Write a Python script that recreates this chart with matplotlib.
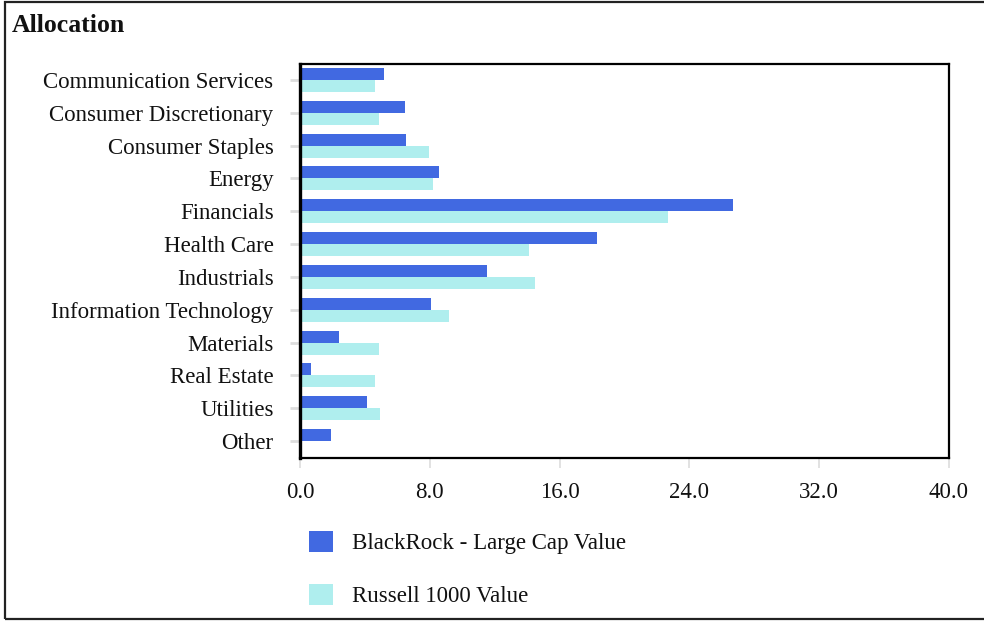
import matplotlib.pyplot as plt
import matplotlib.patches as patches
import numpy as np

plt.rcParams["font.family"] = ["Liberation Serif", "DejaVu Serif"]

categories = [
    "Communication Services",
    "Consumer Discretionary",
    "Consumer Staples",
    "Energy",
    "Financials",
    "Health Care",
    "Industrials",
    "Information Technology",
    "Materials",
    "Real Estate",
    "Utilities",
    "Other",
]
fund_values = [5.2, 6.45, 6.55, 8.55, 26.7, 18.3, 11.5, 8.05, 2.4, 0.65, 4.1, 1.9]
bench_values = [4.6, 4.85, 7.95, 8.2, 22.7, 14.1, 14.5, 9.2, 4.85, 4.6, 4.95, 0.1]
x_ticks = [0, 8, 16, 24, 32, 40]

fund_name = "BlackRock - Large Cap Value"
bench_name = "Russell 1000 Value"
fund_color = "#4169E1"
bench_color = "#AFEEEE"

fig = plt.figure(figsize=(9.84, 6.21), dpi=100, facecolor="white")

# outer frame of the panel
frame = patches.Rectangle(
    (5 / 984, 2 / 621), 1.2, 617 / 621,
    transform=fig.transFigure, fill=False, edgecolor="#222222",
    linewidth=1.6, clip_on=False,
)
fig.add_artist(frame)

fig.text(12 / 984, 1 - 25 / 621, "Allocation", fontsize=18.5, fontweight="bold",
         ha="left", va="center", color="#111111")

ax = fig.add_axes([300 / 984, 1 - 457.5 / 621, 649 / 984, 394 / 621])

y = np.arange(len(categories))
h = 0.367
ax.barh(y - h / 2, fund_values, height=h, color=fund_color, label=fund_name)
ax.barh(y + h / 2, bench_values, height=h, color=bench_color, label=bench_name)

ax.set_ylim(len(categories) - 0.5, -0.5)
ax.set_xlim(0, 40)
ax.set_yticks(y)
ax.set_yticklabels(categories, fontsize=16.5, color="#111111")
ax.set_xticks(x_ticks)
ax.set_xticklabels([f"{v:.1f}" for v in x_ticks], fontsize=16.5, color="#111111")
ax.tick_params(axis="y", length=7, width=2, color="#DDDDDD", pad=12)
ax.tick_params(axis="x", length=7, width=1.2, color="#DDDDDD", pad=11)

for side, spine in ax.spines.items():
    spine.set_color("black")
    spine.set_linewidth(1.6)
ax.spines["left"].set_linewidth(2.4)

handles = [
    patches.Patch(facecolor=fund_color, label=fund_name),
    patches.Patch(facecolor=bench_color, label=bench_name),
]
fig.legend(
    handles=handles,
    loc="upper left",
    bbox_to_anchor=(288 / 984, 1 - 510 / 621),
    frameon=False,
    fontsize=16.5,
    handlelength=1.05,
    handleheight=1.05,
    handletextpad=0.85,
    labelspacing=1.3,
    labelcolor="#111111",
)

fig.savefig("out.png", dpi=100, facecolor="white")
